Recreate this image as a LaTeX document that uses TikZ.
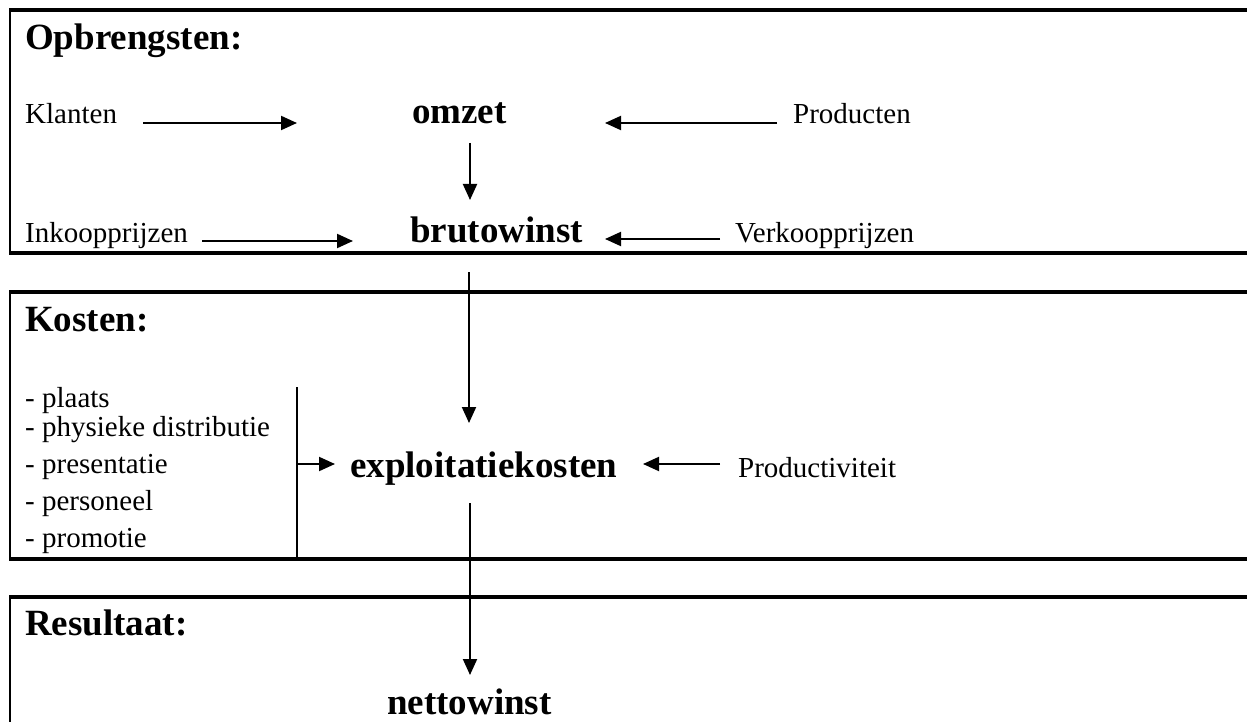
\documentclass[tikz,border=0pt]{standalone}
\usepackage{fontspec}
\setmainfont{Liberation Serif}
\usetikzlibrary{arrows.meta,calc}
\begin{document}
\begin{tikzpicture}[x=1pt,y=-1pt,
  lbl/.style={anchor=base west, inner sep=0pt, font=\fontsize{29}{30}\selectfont},
  key/.style={anchor=base west, inner sep=0pt, font=\fontsize{37}{40}\selectfont\bfseries},
  hframe/.style={line width=3.2pt},
  vframe/.style={line width=2pt},
  link/.style={line width=2pt},
  arr/.style={line width=2pt, -{Triangle[length=16pt,width=14pt]}}]
\useasboundingbox (0,0) rectangle (1247,722);

% section frames: open on the right, running off the page
\draw[vframe] (10,10) -- (10,253);
\draw[hframe] (9,10) -- (1247,10);
\draw[hframe] (9,253) -- (1247,253);
\draw[vframe] (10,292) -- (10,559);
\draw[hframe] (9,292) -- (1247,292);
\draw[hframe] (9,559) -- (1247,559);
\draw[vframe] (10,597) -- (10,722);
\draw[hframe] (9,597) -- (1247,597);

% section titles
\node[key] (opbr) at (25,50) {Opbrengsten:};
\node[key] (kost) at (25,331) {Kosten:};
\node[key] (res) at (25,635) {Resultaat:};

% revenue
\node[lbl] (klant) at (25,124) {Klanten};
\node[key] (omzet) at (412,124) {omzet};
\node[lbl] (prod) at (793,124) {Producten};
\node[lbl] (inkoop) at (25,242) {Inkoopprijzen};
\node[key] (bruto) at (410,242) {brutowinst};
\node[lbl] (verkoop) at (735,242) {Verkoopprijzen};

\draw[arr] ($(klant.base west)+(118,-1)$) -- ($(omzet.base west)+(-115,-1)$);
\draw[arr] ($(prod.base west)+(-16,-1)$) -- ($(omzet.base west)+(193,-1)$);
\draw[arr] ($(omzet.base west)+(58,19)$) -- ($(bruto.base west)+(60,-42)$);
\draw[arr] ($(inkoop.base west)+(177,-1)$) -- ($(bruto.base west)+(-57,-1)$);
\draw[arr] ($(verkoop.base west)+(-15,-3)$) -- ($(bruto.base west)+(195,-3)$);

% costs
\node[lbl] (plaats) at (25,407) {- plaats};
\node[lbl] (phys) at (25,436) {- physieke distributie};
\node[lbl] (pres) at (25,473) {- presentatie};
\node[lbl] (pers) at (25,510) {- personeel};
\node[lbl] (promo) at (25,547) {- promotie};
\node[key] (expl) at (350,477) {exploitatiekosten};
\node[lbl] (prodv) at (738,477) {Productiviteit};

\coordinate (bartop) at (297,387);
\coordinate (barbot) at (297,559);
\coordinate (barmid) at (297,464);
\draw[link] (bartop) -- (barbot);
\draw[arr] (barmid) -- ($(expl.base west)+(-15,-13)$);
\draw[arr] ($(prodv.base west)+(-18,-13)$) -- ($(expl.base west)+(293,-13)$);
\draw[arr] ($(bruto.base west)+(59,30)$) -- ($(expl.base west)+(119,-54)$);

% result
\node[key] (netto) at (387,714) {nettowinst};
\draw[arr] ($(expl.base west)+(120,26)$) -- ($(netto.base west)+(83,-39)$);
\end{tikzpicture}
\end{document}
